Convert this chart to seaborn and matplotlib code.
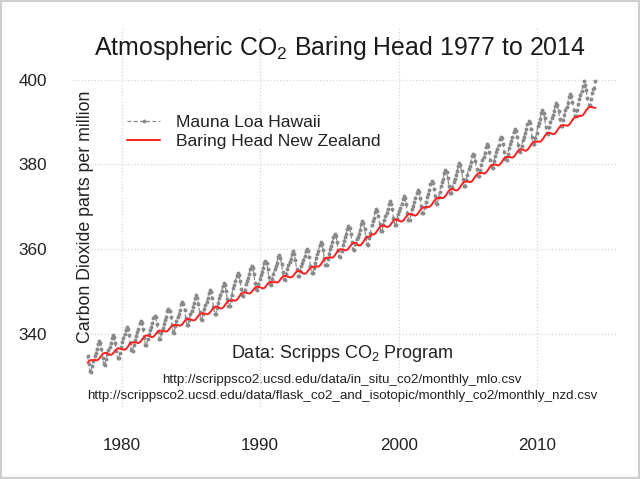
import numpy as np
import pandas as pd
import matplotlib
matplotlib.use("Agg")
import matplotlib.pyplot as plt
from matplotlib.patches import Rectangle
from matplotlib.lines import Line2D
import seaborn as sns

# ---------------- data (monthly means, ppm) ----------------
mlo_start = "1977-07"
mlo_ppm = [
    334.7, 332.7, 331.1, 331.0, 332.4, 333.6,
    334.7, 335.5, 336.4, 337.6, 338.2, 337.7, 336.3, 334.3, 332.7, 332.6, 334.0, 335.2,
    336.0, 336.8, 337.7, 339.0, 339.6, 339.1, 337.7, 335.8, 334.2, 334.1, 335.5, 336.7,
    338.0, 338.9, 339.8, 340.9, 341.5, 341.0, 339.7, 337.7, 336.0, 335.9, 337.3, 338.5,
    339.4, 340.3, 341.1, 342.4, 342.9, 342.4, 341.0, 339.0, 337.4, 337.3, 338.7, 339.9,
    340.8, 341.5, 342.4, 343.6, 344.2, 343.8, 342.3, 340.4, 338.8, 338.6, 340.1, 341.3,
    342.3, 343.1, 344.0, 345.3, 345.9, 345.4, 344.0, 342.0, 340.4, 340.2, 341.7, 342.9,
    344.0, 344.7, 345.6, 346.9, 347.5, 347.0, 345.5, 343.6, 341.9, 341.9, 343.3, 344.5,
    345.4, 346.2, 347.1, 348.3, 349.0, 348.4, 347.0, 345.0, 343.4, 343.3, 344.7, 345.9,
    346.7, 347.5, 348.4, 349.6, 350.3, 349.7, 348.3, 346.3, 344.7, 344.6, 346.0, 347.2,
    348.3, 349.1, 350.0, 351.3, 351.9, 351.5, 350.1, 348.2, 346.6, 346.5, 347.9, 349.2,
    350.7, 351.5, 352.4, 353.7, 354.3, 353.9, 352.5, 350.6, 349.0, 348.9, 350.3, 351.6,
    352.4, 353.2, 354.1, 355.3, 355.9, 355.4, 354.0, 352.0, 350.4, 350.3, 351.7, 352.9,
    353.8, 354.6, 355.4, 356.7, 357.2, 356.7, 355.3, 353.3, 351.6, 351.5, 352.9, 354.1,
    355.2, 355.9, 356.7, 358.0, 358.5, 357.9, 356.5, 354.5, 352.8, 352.7, 354.0, 355.2,
    356.1, 356.9, 357.6, 358.9, 359.4, 358.8, 357.4, 355.3, 353.6, 353.5, 354.8, 355.9,
    356.7, 357.4, 358.2, 359.5, 360.0, 359.4, 358.0, 356.0, 354.3, 354.2, 355.5, 356.7,
    357.9, 358.7, 359.6, 360.9, 361.6, 361.1, 359.7, 357.8, 356.2, 356.1, 357.6, 358.8,
    359.9, 360.7, 361.6, 362.9, 363.6, 363.1, 361.7, 359.8, 358.2, 358.1, 359.6, 360.8,
    361.9, 362.7, 363.6, 364.8, 365.4, 364.9, 363.5, 361.5, 359.9, 359.8, 361.2, 362.4,
    362.8, 363.6, 364.5, 365.8, 366.5, 366.0, 364.6, 362.7, 361.1, 361.0, 362.5, 363.7,
    365.6, 366.5, 367.4, 368.7, 369.4, 369.0, 367.7, 365.8, 364.2, 364.2, 365.6, 366.9,
    367.7, 368.5, 369.4, 370.6, 371.2, 370.7, 369.3, 367.3, 365.7, 365.6, 367.0, 368.2,
    368.9, 369.7, 370.6, 371.8, 372.4, 371.9, 370.5, 368.5, 366.9, 366.8, 368.2, 369.4,
    370.2, 371.0, 371.9, 373.2, 373.9, 373.4, 372.0, 370.1, 368.5, 368.4, 369.9, 371.1,
    372.2, 373.0, 373.9, 375.3, 376.0, 375.5, 374.2, 372.4, 370.8, 370.7, 372.2, 373.5,
    374.9, 375.7, 376.6, 377.9, 378.6, 378.1, 376.7, 374.8, 373.2, 373.1, 374.6, 375.8,
    376.6, 377.4, 378.3, 379.6, 380.3, 379.8, 378.4, 376.5, 374.9, 374.8, 376.3, 377.5,
    378.8, 379.6, 380.5, 381.9, 382.5, 382.1, 380.7, 378.8, 377.2, 377.1, 378.6, 379.9,
    381.0, 381.8, 382.7, 384.0, 384.7, 384.2, 382.8, 380.9, 379.3, 379.2, 380.7, 381.9,
    382.9, 383.7, 384.6, 385.9, 386.5, 386.1, 384.7, 382.8, 381.2, 381.1, 382.5, 383.8,
    384.7, 385.5, 386.4, 387.7, 388.4, 387.9, 386.5, 384.6, 383.0, 382.9, 384.4, 385.6,
    386.5, 387.3, 388.2, 389.5, 390.2, 389.7, 388.3, 386.4, 384.8, 384.7, 386.2, 387.4,
    389.0, 389.8, 390.7, 392.0, 392.7, 392.2, 390.8, 388.9, 387.3, 387.2, 388.7, 389.9,
    390.8, 391.6, 392.5, 393.8, 394.4, 394.0, 392.6, 390.7, 389.1, 389.0, 390.4, 391.7,
    392.8, 393.6, 394.5, 395.9, 396.6, 396.1, 394.8, 392.9, 391.4, 391.3, 392.8, 394.1,
    395.4, 396.3, 397.2, 398.5, 399.7, 398.8, 397.5, 395.6, 394.0, 394.0, 395.4, 396.7,
    397.8, 398.0, 399.7,
]

bhd_start = "1977-07"
bhd_ppm = [
    333.1, 333.45, 333.65, 333.75, 333.7, 333.7,
    333.8, 333.7, 333.65, 333.8, 334.05, 334.45, 334.8, 335.15, 335.35, 335.45, 335.4, 335.4,
    335.15, 335.0, 334.95, 335.05, 335.3, 335.65, 336.0, 336.3, 336.5, 336.5, 336.4, 336.35,
    336.3, 336.2, 336.15, 336.3, 336.55, 336.95, 337.3, 337.65, 337.85, 337.95, 337.9, 337.9,
    337.9, 337.8, 337.75, 337.9, 338.15, 338.55, 338.9, 339.25, 339.45, 339.55, 339.5, 339.5,
    339.35, 339.2, 339.15, 339.25, 339.5, 339.85, 340.2, 340.5, 340.7, 340.7, 340.6, 340.55,
    340.6, 340.5, 340.45, 340.55, 340.8, 341.15, 341.5, 341.8, 342.0, 342.05, 342.0, 341.95,
    342.0, 341.9, 341.85, 341.95, 342.2, 342.55, 342.9, 343.2, 343.4, 343.45, 343.4, 343.35,
    343.25, 343.15, 343.1, 343.2, 343.45, 343.85, 344.2, 344.5, 344.7, 344.8, 344.75, 344.7,
    344.7, 344.6, 344.55, 344.7, 344.95, 345.35, 345.7, 346.05, 346.25, 346.35, 346.3, 346.3,
    346.05, 345.95, 345.9, 346.05, 346.3, 346.7, 347.1, 347.45, 347.7, 347.8, 347.75, 347.75,
    347.9, 347.8, 347.75, 347.9, 348.2, 348.6, 349.0, 349.4, 349.6, 349.7, 349.65, 349.65,
    349.6, 349.5, 349.45, 349.55, 349.8, 350.15, 350.5, 350.8, 351.0, 351.05, 351.0, 350.95,
    350.85, 350.7, 350.65, 350.75, 351.0, 351.35, 351.7, 352.0, 352.2, 352.2, 352.1, 352.05,
    352.25, 352.1, 352.05, 352.15, 352.4, 352.75, 353.1, 353.4, 353.6, 353.6, 353.5, 353.45,
    353.45, 353.3, 353.25, 353.35, 353.6, 353.95, 354.3, 354.6, 354.8, 354.8, 354.7, 354.65,
    354.25, 354.15, 354.1, 354.2, 354.45, 354.85, 355.2, 355.5, 355.7, 355.8, 355.75, 355.7,
    355.9, 355.8, 355.8, 356.0, 356.3, 356.7, 357.15, 357.5, 357.75, 357.9, 357.9, 357.9,
    358.05, 357.95, 357.9, 358.1, 358.4, 358.8, 359.25, 359.6, 359.8, 359.9, 359.9, 359.9,
    359.8, 359.7, 359.65, 359.8, 360.05, 360.45, 360.8, 361.15, 361.35, 361.45, 361.4, 361.4,
    360.9, 360.8, 360.8, 361.0, 361.3, 361.7, 362.15, 362.5, 362.75, 362.9, 362.9, 362.9,
    363.5, 363.4, 363.4, 363.6, 363.9, 364.3, 364.75, 365.1, 365.35, 365.5, 365.5, 365.5,
    365.3, 365.2, 365.15, 365.3, 365.55, 365.95, 366.3, 366.65, 366.85, 366.95, 366.9, 366.9,
    366.6, 366.5, 366.45, 366.6, 366.85, 367.25, 367.6, 367.95, 368.15, 368.25, 368.2, 368.2,
    368.0, 367.9, 367.85, 368.0, 368.3, 368.7, 369.1, 369.45, 369.7, 369.8, 369.8, 369.8,
    370.0, 369.9, 369.9, 370.1, 370.4, 370.8, 371.25, 371.6, 371.85, 372.0, 372.0, 372.0,
    372.1, 372.0, 372.0, 372.2, 372.5, 372.9, 373.35, 373.7, 373.95, 374.1, 374.1, 374.1,
    373.9, 373.8, 373.8, 374.0, 374.3, 374.7, 375.15, 375.5, 375.75, 375.9, 375.9, 375.9,
    375.9, 375.8, 375.8, 376.0, 376.3, 376.7, 377.15, 377.5, 377.75, 377.9, 377.9, 377.9,
    377.9, 377.8, 377.8, 378.0, 378.3, 378.7, 379.15, 379.5, 379.75, 379.9, 379.9, 379.9,
    379.85, 379.75, 379.7, 379.9, 380.2, 380.6, 381.05, 381.4, 381.6, 381.7, 381.7, 381.7,
    381.7, 381.6, 381.55, 381.7, 382.0, 382.4, 382.8, 383.15, 383.4, 383.5, 383.45, 383.45,
    383.3, 383.2, 383.2, 383.4, 383.7, 384.1, 384.55, 384.9, 385.15, 385.3, 385.3, 385.3,
    385.4, 385.3, 385.3, 385.5, 385.8, 386.2, 386.65, 387.0, 387.25, 387.4, 387.4, 387.4,
    387.2, 387.1, 387.1, 387.3, 387.6, 388.0, 388.45, 388.8, 389.05, 389.2, 389.2, 389.2,
    389.2, 389.1, 389.1, 389.3, 389.6, 390.0, 390.45, 390.8, 391.05, 391.2, 391.2, 391.2,
    391.5, 391.4, 391.4, 391.6, 391.9, 392.3, 392.75, 393.1, 393.35, 393.5, 393.5, 393.5,
    393.4, 393.3, 393.3,
]

x_ticks = [1980, 1990, 2000, 2010]
y_ticks = [340, 360, 380, 400]
series_labels = ["Mauna Loa Hawaii", "Baring Head New Zealand"]
title_text = "Atmospheric CO$_2$ Baring Head 1977 to 2014"
ylabel_text = "Carbon Dioxide parts per million"
source_text = "Data: Scripps CO$_2$ Program"
url_texts = [
    "http://scrippsco2.ucsd.edu/data/in_situ_co2/monthly_mlo.csv",
    "http://scrippsco2.ucsd.edu/data/flask_co2_and_isotopic/monthly_co2/monthly_nzd.csv",
]


def decimal_dates(start, n):
    d = pd.date_range(start, periods=n, freq="MS")
    return d.year + (d.month - 0.5) / 12.0


mlo = pd.DataFrame({"year": decimal_dates(mlo_start, len(mlo_ppm)), "ppm": mlo_ppm})
bhd = pd.DataFrame({"year": decimal_dates(bhd_start, len(bhd_ppm)), "ppm": bhd_ppm})

# ---------------- styling ----------------
sns.set_theme(style="white")
plt.rcParams["font.family"] = ["Liberation Sans", "DejaVu Sans"]
plt.rcParams["mathtext.fontset"] = "custom"
plt.rcParams["mathtext.rm"] = "Liberation Sans"
plt.rcParams["mathtext.it"] = "Liberation Sans:italic"
plt.rcParams["mathtext.bf"] = "Liberation Sans:bold"

W, H = 640, 479
fig = plt.figure(figsize=(W / 100, H / 100), dpi=100)
fig.patch.set_facecolor("white")

left, right, top, bottom = 70.7, 616, 28, 407
ax = fig.add_axes([left / W, 1 - bottom / H, (right - left) / W, (bottom - top) / H])
ax.set_facecolor("white")

gray = "#8a8a8a"
red = "#ff2020"

sns.lineplot(data=mlo, x="year", y="ppm", ax=ax, color=gray, linewidth=0.9,
             linestyle=(0, (3, 2)), marker="o", markersize=2.8, markeredgewidth=0,
             markerfacecolor=gray, label=series_labels[0], legend=False)
sns.lineplot(data=bhd, x="year", y="ppm", ax=ax, color=red, linewidth=1.4,
             label=series_labels[1], legend=False)

ax.set_xlim(1976.32, 2015.69)
ax.set_ylim(322.64, 412.17)
ax.set_xticks(x_ticks)
ax.set_yticks(y_ticks)
for v in x_ticks:
    ax.axvline(v, color="#d6d6d6", linestyle=":", linewidth=0.9, zorder=0)
for v in y_ticks:
    ax.axhline(v, color="#d6d6d6", linestyle=":", linewidth=0.9, zorder=0)
ax.grid(False)
for s in ax.spines.values():
    s.set_visible(False)

ax.tick_params(axis="both", which="major", direction="out", length=3, width=0.8,
               color="#9a9a9a", labelsize=12.3, labelcolor="#222222")
ax.tick_params(axis="y", pad=14)
ax.tick_params(axis="x", pad=19)
ax.set_xlabel("")
ax.set_ylabel("")

handles = [
    Line2D([], [], color=gray, linewidth=0.9, linestyle=(0, (3, 2)), marker="o",
           markersize=2.8, markeredgewidth=0, markerfacecolor=gray),
    Line2D([], [], color=red, linewidth=1.4),
]
ax.legend(handles, series_labels, loc="center left",
          bbox_to_anchor=(127 / W, 1 - 132 / H), bbox_transform=fig.transFigure,
          frameon=False, fontsize=12.6, handlelength=1.9, handletextpad=0.9,
          labelspacing=0.25, borderpad=0, borderaxespad=0, labelcolor="#222222")

fig.text(340 / W, 1 - 48 / H, title_text, ha="center", va="center",
         fontsize=17.9, color="#1a1a1a")
fig.text(86 / W, 1 - 217 / H, ylabel_text, ha="center", va="center",
         rotation=90, fontsize=12.8, color="#222222")
fig.text(342 / W, 1 - 353 / H, source_text, ha="center", va="center",
         fontsize=13, color="#222222")
fig.text(342 / W, 1 - 380 / H, url_texts[0], ha="center", va="center",
         fontsize=9.6, color="#222222")
fig.text(342 / W, 1 - 395.5 / H, url_texts[1], ha="center", va="center",
         fontsize=9.6, color="#222222")

fig.patches.append(Rectangle((0, 0), 1, 1, transform=fig.transFigure, fill=False,
                             edgecolor="#cfcfcf", linewidth=3, zorder=10))

fig.savefig("out.png", dpi=100, facecolor="white")
